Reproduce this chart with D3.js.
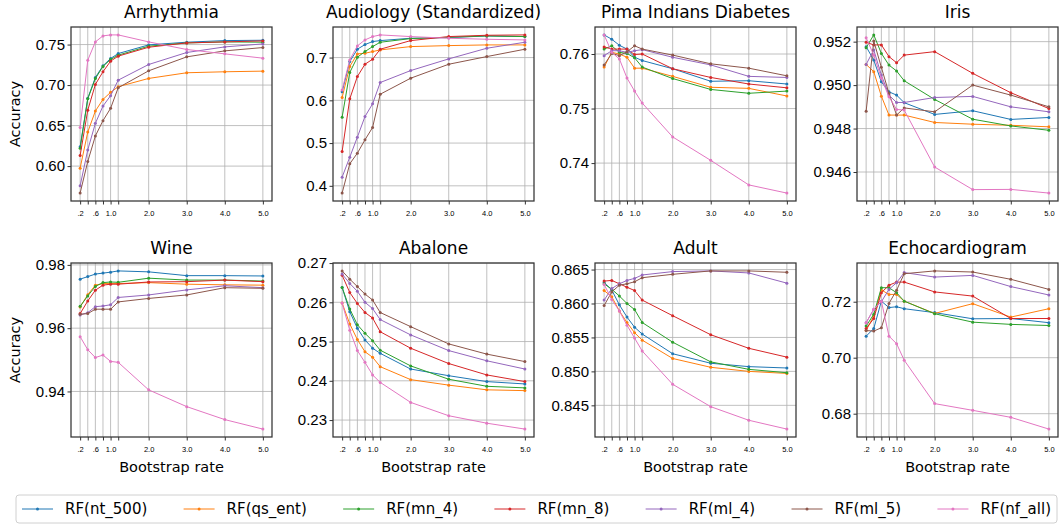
<!DOCTYPE html>
<html>
<head>
<meta charset="utf-8">
<script src="https://cdn.jsdelivr.net/npm/d3@7"></script>
<style>
  body { margin: 0; background: #fff; }
  svg { font-family: "DejaVu Sans", sans-serif; }
</style>
</head>
<body>
<div id="chart"></div>
<script>
// bootstrap rates on the x axis
const rates = [0.2, 0.4, 0.6, 0.8, 1.0, 1.2, 2.0, 3.0, 4.0, 5.0];
const rateLabels = ['.2', '', '.6', '', '1.0', '', '2.0', '3.0', '4.0', '5.0'];

const models = ['RF(nt_500)', 'RF(qs_ent)', 'RF(mn_4)', 'RF(mn_8)', 'RF(ml_4)', 'RF(ml_5)', 'RF(nf_all)'];
const colors = ['#1f77b4', '#ff7f0e', '#2ca02c', '#d62728', '#9467bd', '#8c564b', '#e377c2'];

// one row per model, same order as models
const arrhythmia = [
  [0.624, 0.6836, 0.7094, 0.7238, 0.7328, 0.7389, 0.7496, 0.7529, 0.7549, 0.7553],
  [0.5975, 0.642, 0.668, 0.6823, 0.691, 0.698, 0.7082, 0.7152, 0.7164, 0.7172],
  [0.622, 0.683, 0.708, 0.723, 0.7316, 0.7369, 0.748, 0.752, 0.7533, 0.7529],
  [0.613, 0.669, 0.7008, 0.7164, 0.7295, 0.7357, 0.7467, 0.752, 0.7533, 0.7545],
  [0.5757, 0.620, 0.6528, 0.6741, 0.6869, 0.7061, 0.7254, 0.7402, 0.7471, 0.7508],
  [0.5667, 0.6057, 0.6372, 0.6561, 0.6713, 0.6967, 0.7176, 0.7348, 0.7422, 0.7463],
  [0.6475, 0.7307, 0.7533, 0.7607, 0.7619, 0.7619, 0.7533, 0.7439, 0.7385, 0.7332]
];
const audiology = [
  [0.6198, 0.6907, 0.7195, 0.7304, 0.7374, 0.7397, 0.7452, 0.7467, 0.7506, 0.7491],
  [0.6065, 0.679, 0.7086, 0.7101, 0.714, 0.7179, 0.7257, 0.728, 0.7296, 0.7296],
  [0.5606, 0.665, 0.7008, 0.714, 0.7257, 0.7358, 0.7444, 0.7475, 0.7506, 0.7491],
  [0.4803, 0.6034, 0.6556, 0.6844, 0.6961, 0.7195, 0.7397, 0.7491, 0.7522, 0.753],
  [0.4203, 0.467, 0.5138, 0.5621, 0.5917, 0.6416, 0.6696, 0.6969, 0.7218, 0.7358],
  [0.383, 0.4515, 0.4764, 0.5076, 0.5364, 0.6143, 0.6517, 0.6844, 0.7023, 0.7195],
  [0.6244, 0.6945, 0.7273, 0.7413, 0.7491, 0.753, 0.7491, 0.7452, 0.7428, 0.7413]
];
const pima = [
  [0.7635, 0.7627, 0.7616, 0.7609, 0.7594, 0.7588, 0.7573, 0.755, 0.7551, 0.7545],
  [0.7576, 0.7603, 0.760, 0.7594, 0.7574, 0.7574, 0.7559, 0.7539, 0.7537, 0.7523],
  [0.7609, 0.7615, 0.7603, 0.7601, 0.7593, 0.7576, 0.7555, 0.7535, 0.7528, 0.7532],
  [0.7613, 0.7609, 0.7609, 0.7609, 0.7599, 0.760, 0.7573, 0.7557, 0.7545, 0.7538],
  [0.7597, 0.7606, 0.7606, 0.7603, 0.7606, 0.7608, 0.7594, 0.758, 0.7559, 0.7557],
  [0.758, 0.7601, 0.7597, 0.7604, 0.7615, 0.7609, 0.7598, 0.7582, 0.7574, 0.756],
  [0.7635, 0.7603, 0.7591, 0.7556, 0.7532, 0.751, 0.7448, 0.7405, 0.736, 0.7345]
];
const iris = [
  [0.95177, 0.95115, 0.95015, 0.94969, 0.94954, 0.94919, 0.94865, 0.94882, 0.94842, 0.94851],
  [0.95095, 0.95062, 0.94949, 0.94862, 0.94862, 0.94862, 0.94828, 0.9482, 0.94815, 0.94808],
  [0.95172, 0.95231, 0.95146, 0.95092, 0.95065, 0.9502, 0.94934, 0.94843, 0.94812, 0.94792],
  [0.95197, 0.95185, 0.95185, 0.95131, 0.95103, 0.95138, 0.95154, 0.95054, 0.94965, 0.94892],
  [0.95095, 0.95162, 0.95046, 0.94954, 0.9492, 0.9492, 0.94943, 0.94948, 0.949, 0.94877],
  [0.9488, 0.95203, 0.95082, 0.94962, 0.94862, 0.94895, 0.94877, 0.950, 0.94954, 0.949],
  [0.95218, 0.95138, 0.95031, 0.94946, 0.94888, 0.94885, 0.94623, 0.94519, 0.9452, 0.94503]
];
const wine = [
  [0.9755, 0.9763, 0.9771, 0.9774, 0.9777, 0.9781, 0.9778, 0.9766, 0.9766, 0.9765],
  [0.9667, 0.9706, 0.9736, 0.9741, 0.9741, 0.9741, 0.9744, 0.9739, 0.9737, 0.9736],
  [0.9669, 0.9702, 0.9732, 0.9744, 0.9746, 0.9745, 0.9758, 0.9752, 0.9752, 0.9749],
  [0.9646, 0.9686, 0.972, 0.9736, 0.9739, 0.9739, 0.9746, 0.9747, 0.9752, 0.9747],
  [0.9642, 0.9649, 0.9668, 0.967, 0.9674, 0.9697, 0.9705, 0.9721, 0.9734, 0.9728],
  [0.9644, 0.9646, 0.966, 0.966, 0.966, 0.9683, 0.9694, 0.9705, 0.9728, 0.9726],
  [0.9573, 0.9532, 0.9507, 0.9515, 0.9495, 0.9492, 0.9405, 0.9352, 0.9311, 0.9281]
];
const abalone = [
  [0.2638, 0.2576, 0.2534, 0.2504, 0.2483, 0.247, 0.243, 0.2413, 0.2398, 0.2392],
  [0.2598, 0.2545, 0.2505, 0.2474, 0.246, 0.2436, 0.2403, 0.2389, 0.2377, 0.2375],
  [0.2638, 0.2583, 0.2543, 0.2521, 0.2502, 0.2478, 0.2438, 0.2404, 0.2386, 0.2382],
  [0.2669, 0.2625, 0.2597, 0.2574, 0.256, 0.2525, 0.2483, 0.2444, 0.2415, 0.2398],
  [0.2672, 0.2648, 0.2628, 0.260, 0.2584, 0.2556, 0.2517, 0.2477, 0.2451, 0.243],
  [0.268, 0.2659, 0.264, 0.2621, 0.2606, 0.2574, 0.2538, 0.2494, 0.2468, 0.2449],
  [0.2598, 0.2529, 0.2477, 0.2447, 0.2415, 0.2396, 0.2345, 0.2311, 0.2292, 0.2277]
];
const adult = [
  [0.8631, 0.862, 0.8598, 0.858, 0.8565, 0.8555, 0.8526, 0.8512, 0.8507, 0.8505],
  [0.8619, 0.861, 0.8589, 0.8572, 0.8557, 0.8546, 0.8519, 0.8506, 0.850, 0.8497],
  [0.8629, 0.8621, 0.8611, 0.860, 0.8591, 0.8572, 0.8543, 0.8514, 0.8503, 0.8498],
  [0.8633, 0.8634, 0.8629, 0.8624, 0.8619, 0.8605, 0.8582, 0.8554, 0.8534, 0.8521],
  [0.8605, 0.8622, 0.8629, 0.8634, 0.8637, 0.8642, 0.8647, 0.8648, 0.8645, 0.863],
  [0.8597, 0.8617, 0.8627, 0.8629, 0.8632, 0.8638, 0.8643, 0.8648, 0.8648, 0.8646],
  [0.8628, 0.8606, 0.8589, 0.8568, 0.8549, 0.853, 0.8481, 0.8448, 0.8428, 0.8415]
];
const echo = [
  [0.7077, 0.7104, 0.7202, 0.7179, 0.7182, 0.7175, 0.7161, 0.7139, 0.714, 0.7125],
  [0.7097, 0.7149, 0.7242, 0.7226, 0.7226, 0.7202, 0.7158, 0.7193, 0.7145, 0.7175],
  [0.7113, 0.7155, 0.725, 0.725, 0.7232, 0.7202, 0.7157, 0.7127, 0.7119, 0.7115],
  [0.7104, 0.714, 0.7232, 0.7259, 0.727, 0.727, 0.7235, 0.722, 0.714, 0.714],
  [0.7125, 0.7173, 0.720, 0.7244, 0.7268, 0.7304, 0.7288, 0.7294, 0.7254, 0.7224],
  [0.7097, 0.7095, 0.7107, 0.7194, 0.7241, 0.730, 0.731, 0.7306, 0.728, 0.7244],
  [0.7125, 0.7173, 0.7202, 0.7077, 0.705, 0.6991, 0.6836, 0.6812, 0.6787, 0.6745]
];

const titles = ['Arrhythmia', 'Audiology (Standardized)', 'Pima Indians Diabetes', 'Iris',
                'Wine', 'Abalone', 'Adult', 'Echocardiogram'];
const series = [arrhythmia, audiology, pima, iris, wine, abalone, adult, echo];
const yTicks = [
  [0.60, 0.65, 0.70, 0.75],
  [0.4, 0.5, 0.6, 0.7],
  [0.74, 0.75, 0.76],
  [0.946, 0.948, 0.950, 0.952],
  [0.94, 0.96, 0.98],
  [0.23, 0.24, 0.25, 0.26, 0.27],
  [0.845, 0.850, 0.855, 0.860, 0.865],
  [0.68, 0.70, 0.72]
];
const yFormats = ['.2f', '.1f', '.2f', '.3f', '.2f', '.2f', '.3f', '.2f'];

const W = 1061, H = 525;
const colLeft = [71, 333, 595, 857];
const rowTop = [27, 263];
const pw = 201, ph = 174;

const svg = d3.select('#chart').append('svg')
  .attr('width', W)
  .attr('height', H);

const x = d3.scaleLinear().domain([-0.04, 5.24]).range([0, pw]);

titles.forEach((title, k) => {
  const row = Math.floor(k / 4), col = k % 4;
  const data = series[k];
  const g = svg.append('g')
    .attr('transform', `translate(${colLeft[col]},${rowTop[row]})`);

  // y range with matplotlib-like 5% margins
  const all = data.flat();
  const lo = d3.min(all), hi = d3.max(all);
  const pad = (hi - lo) * 0.05;
  const y = d3.scaleLinear().domain([lo - pad, hi + pad]).range([ph, 0]);

  // grid
  g.append('g').selectAll('line').data(rates).join('line')
    .attr('x1', d => x(d)).attr('x2', d => x(d))
    .attr('y1', 0).attr('y2', ph)
    .attr('stroke', '#b0b0b0').attr('stroke-width', 0.8);
  g.append('g').selectAll('line').data(yTicks[k]).join('line')
    .attr('x1', 0).attr('x2', pw)
    .attr('y1', d => y(d)).attr('y2', d => y(d))
    .attr('stroke', '#b0b0b0').attr('stroke-width', 0.8);

  const line = d3.line().x((d, i) => x(rates[i])).y(d => y(d));

  data.forEach((vals, m) => {
    g.append('path')
      .datum(vals)
      .attr('d', line)
      .attr('fill', 'none')
      .attr('stroke', colors[m])
      .attr('stroke-width', 1);
    g.append('g').selectAll('circle').data(vals).join('circle')
      .attr('cx', (d, i) => x(rates[i]))
      .attr('cy', d => y(d))
      .attr('r', 1.5)
      .attr('fill', colors[m]);
  });

  // axes
  const yAxis = g.append('g')
    .call(d3.axisLeft(y).tickValues(yTicks[k]).tickFormat(d3.format(yFormats[k]))
      .tickSize(3.5).tickPadding(2.5));
  yAxis.select('.domain').remove();
  yAxis.selectAll('text').attr('font-size', 15).attr('fill', '#000');
  yAxis.selectAll('line').attr('stroke', '#333');

  const xAxis = g.append('g')
    .attr('transform', `translate(0,${ph})`)
    .call(d3.axisBottom(x).tickValues(rates).tickFormat((d, i) => rateLabels[i])
      .tickSize(3.5).tickPadding(6.5));
  xAxis.select('.domain').remove();
  xAxis.selectAll('text').attr('font-size', 7.5).attr('fill', '#000');
  xAxis.selectAll('line').attr('stroke', '#333');

  // frame
  g.append('rect')
    .attr('width', pw).attr('height', ph)
    .attr('fill', 'none')
    .attr('stroke', '#333')
    .attr('stroke-width', 1.25);

  g.append('text')
    .attr('x', pw / 2)
    .attr('y', -9)
    .attr('text-anchor', 'middle')
    .attr('font-size', 17)
    .text(title);

  if (col === 0) {
    g.append('text')
      .attr('transform', `translate(${15 - colLeft[0]},${ph / 2}) rotate(-90)`)
      .attr('text-anchor', 'middle')
      .attr('dy', '0.35em')
      .attr('font-size', 14.5)
      .text('Accuracy');
  }
  if (row === 1) {
    g.append('text')
      .attr('x', pw / 2)
      .attr('y', ph + 35)
      .attr('text-anchor', 'middle')
      .attr('font-size', 14.5)
      .text('Bootstrap rate');
  }
});

// legend, spread over the full width (expand mode)
const legW = 1041, legH = 28;
const legend = svg.append('g').attr('transform', 'translate(16,495)');
legend.append('rect')
  .attr('width', legW)
  .attr('height', legH)
  .attr('rx', 3)
  .attr('fill', '#fff')
  .attr('stroke', '#d0d0d0')
  .attr('stroke-width', 1);

const items = models.map((name, m) => {
  const it = legend.append('g');
  it.append('line')
    .attr('x1', 0).attr('x2', 31)
    .attr('y1', legH / 2).attr('y2', legH / 2)
    .attr('stroke', colors[m]).attr('stroke-width', 1);
  it.append('circle')
    .attr('cx', 15.5).attr('cy', legH / 2).attr('r', 1.5)
    .attr('fill', colors[m]);
  const t = it.append('text')
    .attr('x', 43)
    .attr('y', legH / 2)
    .attr('dy', '0.35em')
    .attr('font-size', 15)
    .text(name);
  return { it, w: 43 + t.node().getComputedTextLength() };
});
const used = d3.sum(items, d => d.w);
const gap = (legW - 12 - used) / (items.length - 1);
let lx = 6;
items.forEach(d => {
  d.it.attr('transform', `translate(${lx},0)`);
  lx += d.w + gap;
});
</script>
</body>
</html>
